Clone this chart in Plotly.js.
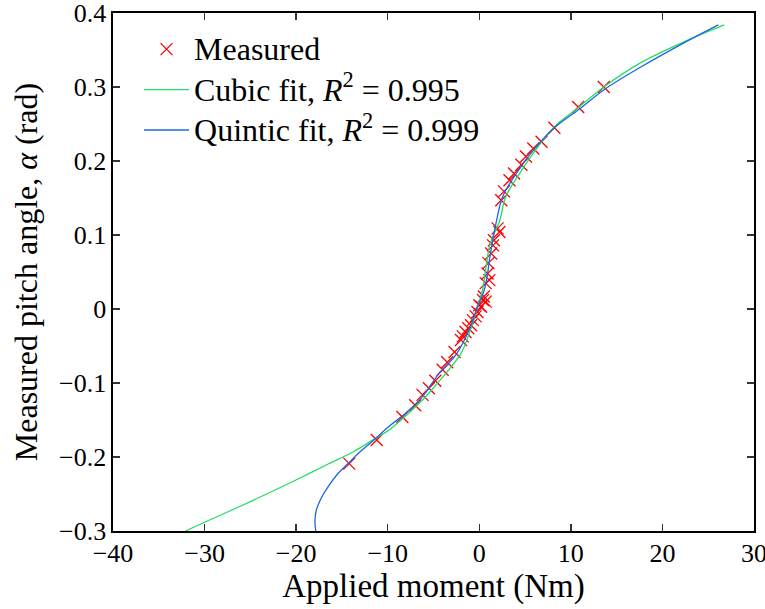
<!DOCTYPE html>
<html>
<head>
<meta charset="utf-8">
<script src="https://cdn.plot.ly/plotly-3.0.1.min.js"></script>
<style>html,body{margin:0;padding:0;background:#fff;}</style>
</head>
<body>
<div id="chart" style="width:765px;height:609px;"></div>
<script>
// Measured points (applied moment in Nm, pitch angle in rad)
const measuredMoment = [-14.2, -11.2, -8.4, -7.0, -6.2, -5.5, -4.8, -4.0, -3.5, -2.7, -2.0, -1.8, -1.5, -1.2, -0.9, -0.7, -0.4, -0.2, 0.0, 0.2, 0.4, 0.5, 0.7, 0.7, 0.9, 1.1, 1.0, 1.3, 1.5, 1.6, 2.2, 2.0, 2.4, 2.7, 3.3, 3.8, 4.6, 5.1, 5.9, 6.8, 8.2, 10.8, 13.6];
const measuredAngle  = [-0.209, -0.177, -0.146, -0.130, -0.116, -0.107, -0.097, -0.082, -0.072, -0.058, -0.042, -0.037, -0.031, -0.026, -0.022, -0.015, -0.010, -0.004, 0.005, 0.003, 0.012, 0.017, 0.010, 0.035, 0.048, 0.039, 0.062, 0.075, 0.086, 0.093, 0.104, 0.109, 0.147, 0.159, 0.174, 0.183, 0.195, 0.206, 0.217, 0.226, 0.245, 0.273, 0.300];

// Cubic fit curve
const cubicMoment = [-32.1, -29.7, -26.4, -23.1, -19.8, -16.5, -13.7, -11.3, -9.9, -8.05, -6.2, -4.76, -3.66, -2.0, -0.9, -0.19, 0.36, 0.74, 1.1, 1.55, 2.2, 2.9, 4.4, 6.4, 8.2, 10.9, 13.7, 17.5, 22.7, 26.75];
const cubicAngle  = [-0.300, -0.2865, -0.2682, -0.2493, -0.2297, -0.2095, -0.1925, -0.1745, -0.164, -0.1445, -0.123, -0.103, -0.087, -0.060, -0.026, 0.003, 0.026, 0.057, 0.084, 0.100, 0.118, 0.152, 0.183, 0.219, 0.246, 0.273, 0.301, 0.332, 0.363, 0.384];

// Quintic fit curve
const quinticMoment = [-17.85, -17.95, -17.8, -17.2, -16.5, -15.4, -14.3, -13.2, -11.7, -9.9, -8.05, -6.2, -4.4, -2.56, -1.1, -0.19, 0.55, 0.91, 1.1, 1.29, 1.83, 2.56, 4.03, 6.2, 8.2, 10.9, 13.7, 17.5, 22.7, 26.1];
const quinticAngle  = [-0.300, -0.287, -0.272, -0.254, -0.240, -0.222, -0.2085, -0.195, -0.179, -0.159, -0.141, -0.1185, -0.087, -0.062, -0.028, 0.003, 0.026, 0.048, 0.066, 0.080, 0.116, 0.152, 0.183, 0.219, 0.245, 0.270, 0.297, 0.326, 0.362, 0.384];

const legendNames = ['Measured', 'Cubic fit, <i>R</i><sup>2</sup> = 0.995', 'Quintic fit, <i>R</i><sup>2</sup> = 0.999'];
const xTicks = [-40, -30, -20, -10, 0, 10, 20, 30];
const yTicks = [-0.3, -0.2, -0.1, 0, 0.1, 0.2, 0.3, 0.4];

const FONT = 'Liberation Serif, Times New Roman, serif';
const big = s => '<span style="font-size:32px">' + s + '</span>';

const traces = [
  {x: measuredMoment, y: measuredAngle, type: 'scatter', mode: 'markers', name: big(legendNames[0]),
   marker: {symbol: 'x-thin-open', size: 12, color: '#ff0000', line: {color: '#ff0000', width: 1.3}}},
  {x: cubicMoment, y: cubicAngle, type: 'scatter', mode: 'lines', name: big(legendNames[1]),
   line: {color: '#22dd66', width: 1.3, shape: 'spline', smoothing: 1}},
  {x: quinticMoment, y: quinticAngle, type: 'scatter', mode: 'lines', name: big(legendNames[2]),
   line: {color: '#1f66e0', width: 1.3, shape: 'spline', smoothing: 1}}
];

const axisCommon = {
  showgrid: false, zeroline: false, showline: true, linecolor: '#000', linewidth: 1.6,
  mirror: 'ticks', ticks: 'inside', ticklen: 7, tickwidth: 1.3, tickcolor: '#333',
  ticklabeloverflow: 'allow',
  tickfont: {family: FONT, size: 26, color: '#000'}
};

const layout = {
  width: 765, height: 609,
  margin: {l: 113, r: 11, t: 13, b: 78},
  paper_bgcolor: '#fff', plot_bgcolor: '#fff',
  showlegend: true,
  legend: {x: 0.0406, y: 0.979, xanchor: 'left', yanchor: 'top', bgcolor: 'rgba(0,0,0,0)',
           font: {family: FONT, size: 28.8, color: '#000'}, itemwidth: 45},
  xaxis: Object.assign({}, axisCommon, {range: [-40, 30], tickmode: 'array', tickvals: xTicks,
    ticklabelstandoff: -2,
    title: {text: 'Applied moment (Nm)', font: {family: FONT, size: 33, color: '#000'}, standoff: 0}}),
  yaxis: Object.assign({}, axisCommon, {range: [-0.3, 0.4], tickmode: 'array', tickvals: yTicks,
    title: {text: 'Measured pitch angle, <i>α</i> (rad)', font: {family: FONT, size: 32, color: '#000'}, standoff: 12}})
};

Plotly.newPlot('chart', traces, layout, {displayModeBar: false, staticPlot: true});
</script>
</body>
</html>
